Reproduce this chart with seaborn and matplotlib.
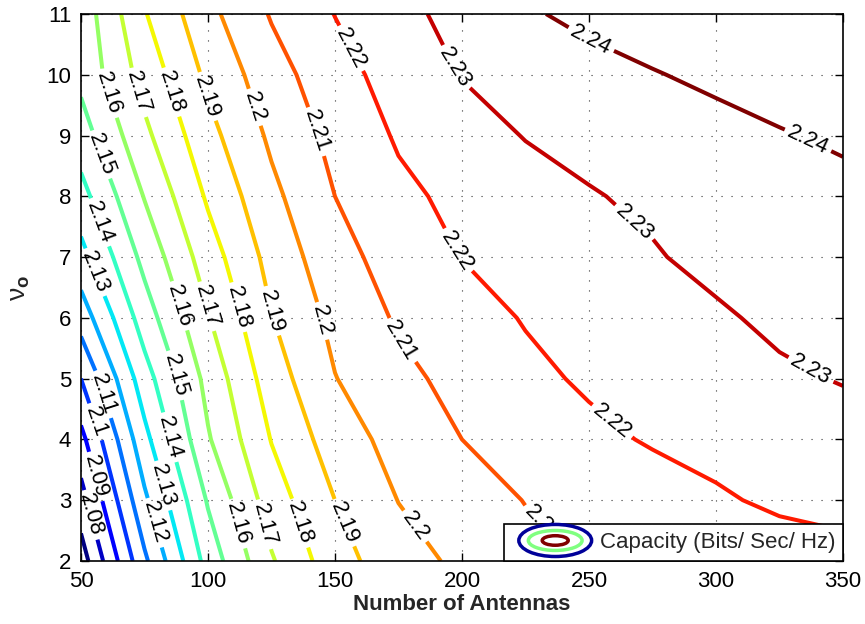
import numpy as np
import pandas as pd
import seaborn as sns
import matplotlib
matplotlib.use("Agg")
import matplotlib.pyplot as plt
from matplotlib.patches import Ellipse
from matplotlib.legend_handler import HandlerBase

# ---- data -------------------------------------------------------------
antennas = [50, 75, 100, 125, 150, 175, 200, 225, 250, 275, 300, 325, 350]
nu_o = [2, 3, 4, 5, 6, 7, 8, 9, 10, 11]

# capacity (Bits/Sec/Hz), one row per nu_o value, one column per antenna count
cap_nu2 = [2.065, 2.108, 2.144, 2.169, 2.186, 2.196, 2.202, 2.207, 2.2105, 2.2123, 2.2142, 2.2158, 2.2175]
cap_nu3 = [2.076, 2.118, 2.151, 2.175, 2.190, 2.2002, 2.2053, 2.2103, 2.2131, 2.2160, 2.2189, 2.2215, 2.2225]
cap_nu4 = [2.087, 2.127, 2.159, 2.1804, 2.195, 2.2036, 2.210, 2.2139, 2.2179, 2.2208, 2.2227, 2.2245, 2.2263]
cap_nu5 = [2.100, 2.1357, 2.1632, 2.1852, 2.1997, 2.2074, 2.2131, 2.2178, 2.2213, 2.2237, 2.2261, 2.2286, 2.2305]
cap_nu6 = [2.1144, 2.145, 2.1693, 2.1896, 2.2027, 2.2112, 2.2162, 2.2206, 2.2234, 2.2261, 2.2288, 2.2318, 2.2335]
cap_nu7 = [2.1267, 2.153, 2.1753, 2.1934, 2.2065, 2.2143, 2.2202, 2.2232, 2.2263, 2.2293, 2.2323, 2.2345, 2.2365]
cap_nu8 = [2.1365, 2.1605, 2.1814, 2.1976, 2.210, 2.2178, 2.2225, 2.226, 2.2294, 2.2316, 2.2335, 2.2355, 2.2374]
cap_nu9 = [2.1454, 2.1677, 2.1869, 2.2018, 2.2129, 2.2211, 2.2259, 2.2304, 2.2326, 2.2349, 2.2371, 2.2394, 2.2414]
cap_nu10 = [2.1527, 2.1738, 2.1921, 2.2059, 2.2163, 2.2241, 2.2304, 2.2334, 2.2365, 2.2395, 2.2418, 2.2438, 2.2455]
cap_nu11 = [2.154, 2.1793, 2.1973, 2.2108, 2.2202, 2.2272, 2.2333, 2.2388, 2.2425, 2.2445, 2.246, 2.2475, 2.249]

levels = [2.07, 2.08, 2.09, 2.10, 2.11, 2.12, 2.13, 2.14, 2.15, 2.16,
          2.17, 2.18, 2.19, 2.20, 2.21, 2.22, 2.23, 2.24]

x_ticks = [50, 100, 150, 200, 250, 300, 350]
y_ticks = [2, 3, 4, 5, 6, 7, 8, 9, 10, 11]
x_label = "Number of Antennas"
y_label = r"$\mathrm{\nu}_{\mathbf{o}}$"
legend_label = "Capacity (Bits/ Sec/ Hz)"

# where the inline level labels sit (antennas, nu_o)
label_spots = [
    (54, 2.76), (54, 3.37), (54.3, 4.27), (57.9, 4.73),
    (78.3, 2.62), (81.5, 3.23), (56.7, 6.77), (83.5, 4.02), (56.7, 7.56),
    (85.5, 5.03), (57.5, 8.68),
    (61.4, 9.7), (87.4, 6.18), (110.6, 2.6),
    (72, 9.7), (98.8, 6.18), (122, 2.6),
    (84.6, 9.7), (110.6, 6.16), (134.6, 2.6),
    (98.8, 9.63), (124.8, 6.11), (152, 2.6),
    (117.3, 9.45), (142.9, 5.93), (179.5, 2.51),
    (141, 9.04), (173.6, 5.55), (228, 2.45),
    (154.7, 10.4), (196.5, 7.07), (257, 4.19),
    (196.5, 10.1), (266, 7.49), (335.8, 5.03),
    (249.6, 10.47), (336, 8.9),
]

# ---- tidy table -> grid ---------------------------------------------------
rows = [cap_nu2, cap_nu3, cap_nu4, cap_nu5, cap_nu6,
        cap_nu7, cap_nu8, cap_nu9, cap_nu10, cap_nu11]
table = pd.DataFrame(rows, index=nu_o, columns=antennas)
long = table.stack().rename("capacity").reset_index()
long.columns = ["nu_o", "antennas", "capacity"]
grid = long.pivot(index="nu_o", columns="antennas", values="capacity")

# ---- style -------------------------------------------------------------
sns.set_style("ticks")
plt.rcParams["font.family"] = ["Liberation Sans", "DejaVu Sans"]
plt.rcParams["mathtext.fontset"] = "custom"
plt.rcParams["mathtext.rm"] = "Liberation Sans"
plt.rcParams["mathtext.it"] = "Liberation Sans:italic"
plt.rcParams["mathtext.bf"] = "Liberation Sans:bold"

FS = 16

fig = plt.figure(figsize=(8.65, 6.24), dpi=100)
ax = fig.add_axes([0.0936, 0.1010, 0.8809, 0.8766])

jet = plt.get_cmap("jet")
line_colors = [jet(i / (len(levels) - 1)) for i in range(len(levels))]

X, Y = np.meshgrid(grid.columns.values, grid.index.values)
cs = ax.contour(X, Y, grid.values, levels=levels, colors=line_colors,
                linewidths=2.9)
ax.clabel(cs, inline=True, fmt="%g", fontsize=FS, colors="k",
          manual=label_spots, inline_spacing=4)

ax.set_xlim(50, 350)
ax.set_ylim(2, 11)
ax.set_xticks(x_ticks)
ax.set_yticks(y_ticks)
ax.tick_params(direction="in", length=6, width=1, labelsize=FS,
               top=True, right=True, pad=7, colors="black")
ax.grid(True, color="0.2", linestyle=(0, (1, 8)), linewidth=0.8)
for sp in ax.spines.values():
    sp.set_linewidth(1.2)
    sp.set_color("black")

ax.set_xlabel(x_label, fontsize=FS, fontweight="bold", labelpad=2)
ax.set_ylabel(y_label, fontsize=19, labelpad=10)


# ---- legend with concentric ring key --------------------------------------
class RingKey:
    pass


class RingKeyHandler(HandlerBase):
    rings = ((0.84, 0.37, (0.0, 0.0, 0.6)),
             (0.62, 0.23, (0.5, 1.0, 0.5)),
             (0.30, 0.11, (0.5, 0.0, 0.0)))

    def create_artists(self, legend, orig_handle, xdescent, ydescent,
                       width, height, fontsize, trans):
        cx = -xdescent + width / 2.0
        cy = -ydescent + height / 2.0
        arts = []
        for fw, fh, col in self.rings:
            arts.append(Ellipse((cx, cy), width * fw, width * fh,
                                fill=False, edgecolor=col, linewidth=2.5,
                                transform=trans))
        return arts


leg = ax.legend([RingKey()], [legend_label],
                handler_map={RingKey: RingKeyHandler()},
                loc="lower right", borderaxespad=0, fancybox=False,
                edgecolor="black", framealpha=1, fontsize=FS,
                handlelength=3.9, handleheight=0.8, handletextpad=0.05,
                borderpad=0.35)
leg.get_frame().set_linewidth(1.2)

fig.savefig("out.png", dpi=100)
